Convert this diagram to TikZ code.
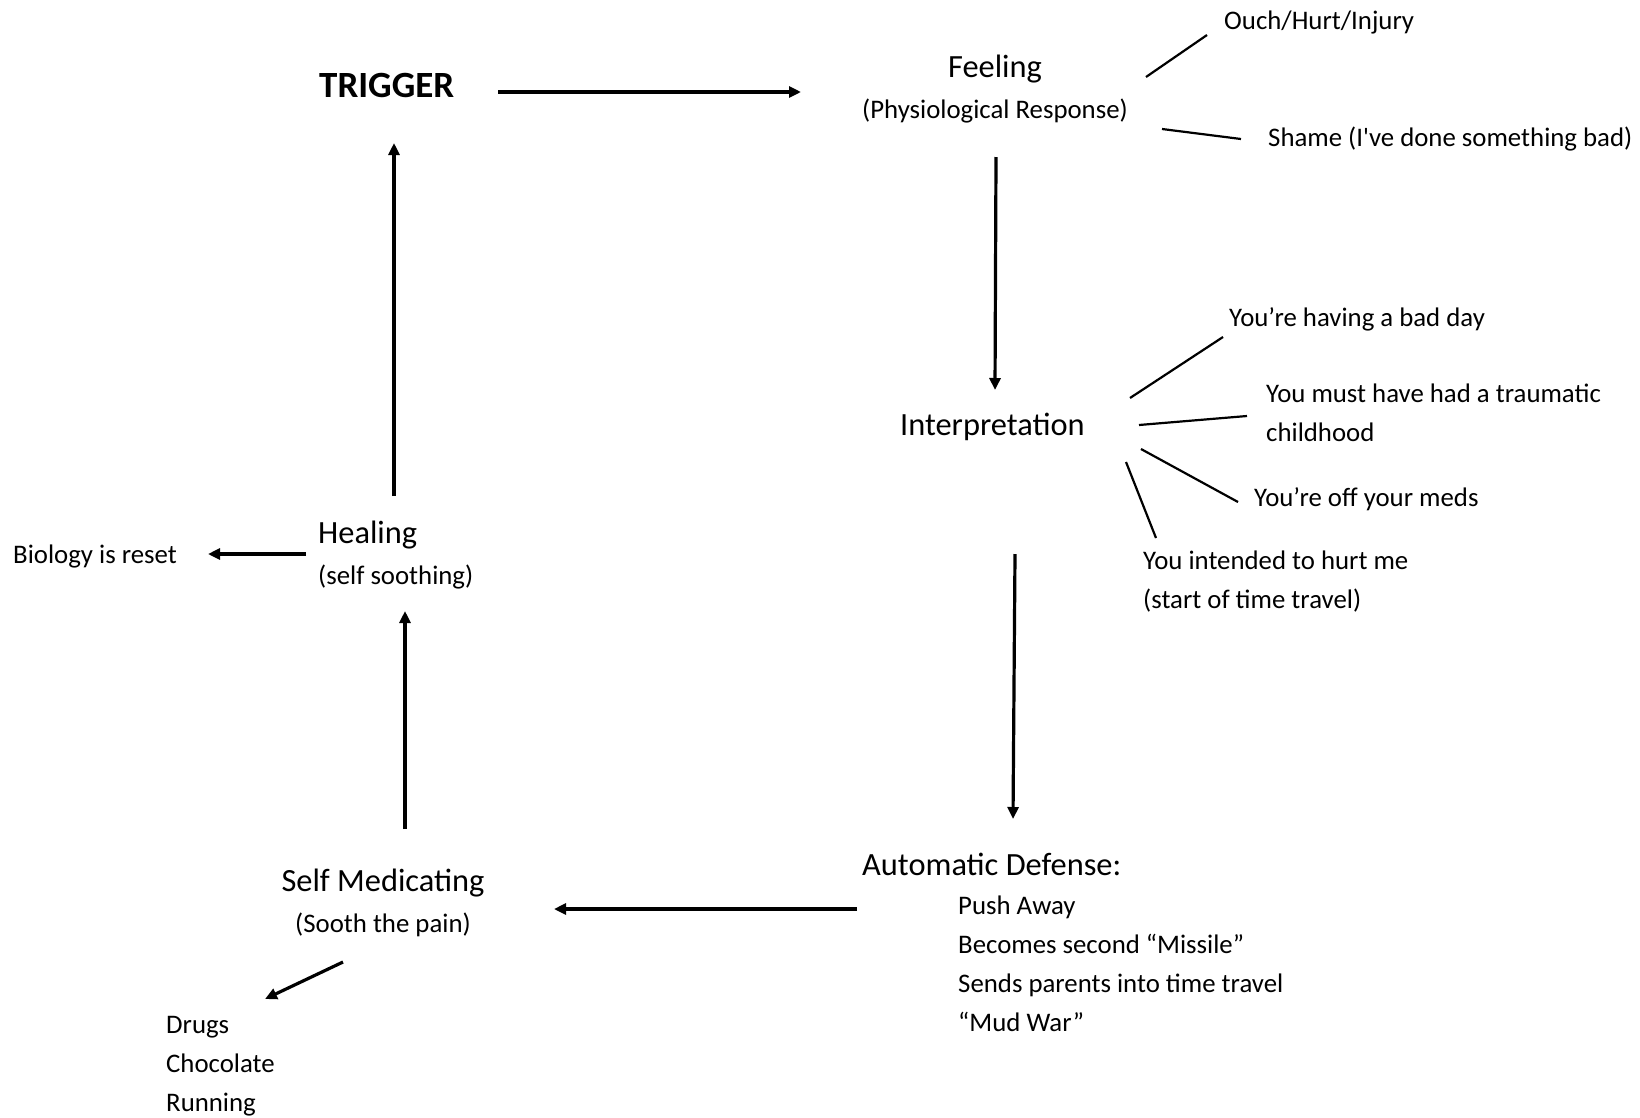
\documentclass[tikz,border=0pt]{standalone}
\usepackage{fontspec}
\setmainfont{Carlito}[Ligatures=TeXOff]
\usetikzlibrary{arrows.meta}
\begin{document}
\begin{tikzpicture}[x=1pt,y=-1pt,
  small/.style={font=\fontsize{26.8}{38.8}\selectfont,inner sep=0pt,align=left},
  big/.style={font=\fontsize{32.4}{38}\selectfont,inner sep=0pt},
  flow/.style={line width=3.2pt,-{Triangle[length=12pt,width=11pt]}},
  branch/.style={line width=2.2pt}]
\fill[white] (0,0) rectangle (1640,1117);
\useasboundingbox (0,0) rectangle (1640,1117);

% main labels
\node[inner sep=0pt,anchor=west,font=\fontsize{37}{40}\selectfont\bfseries] (trigger) at (319,85) {TRIGGER};
\node[big] (feeling) at (995,69) {Feeling};
\node[small,anchor=center] (physio) at (995,111) {(Physiological Response)};
\node[big,anchor=west] (interp) at (900,427) {Interpretation};
\node[big,anchor=west] (auto) at (862,864) {Automatic Defense:};
\node[small,anchor=north west] (autolist) at (958,896) {Push Away\\Becomes second “Missile”\\Sends parents into time travel\\“Mud War”};
\node[big] (selfmed) at (383,883) {Self Medicating};
\node[small,anchor=center] (sooth) at (383,925) {(Sooth the pain)};
\node[small,anchor=north west] (drugs) at (166,1016) {Drugs\\Chocolate\\Running};
\node[big,anchor=west] (healing) at (318,535) {Healing};
\node[small,anchor=west] (soothing) at (318,577) {(self soothing)};
\node[small,anchor=west] (biology) at (13,556) {Biology is reset};

% branch labels
\node[small,anchor=west] (ouch) at (1224,22) {Ouch/Hurt/Injury};
\node[small,anchor=west] (shame) at (1268,139) {Shame (I've done something bad)};
\node[small,anchor=west] (badday) at (1229,319) {You’re having a bad day};
\node[small,anchor=north west] (trauma) at (1266,384) {You must have had a traumatic\\childhood};
\node[small,anchor=west] (meds) at (1254,499) {You’re off your meds};
\node[small,anchor=north west] (intend) at (1143,551) {You intended to hurt me\\(start of time travel)};

% connector end points
\coordinate (tA) at (498,92);   \coordinate (fA) at (801,92);
\coordinate (fB) at (996,157);  \coordinate (iB) at (995,390);
\coordinate (iC) at (1015,554); \coordinate (aC) at (1013,819);
\coordinate (aD) at (857,909);  \coordinate (sD) at (554,909);
\coordinate (sE) at (405,829);  \coordinate (hE) at (405,611);
\coordinate (hF) at (394,496);  \coordinate (tF) at (394,143);
\coordinate (hG) at (306,554);  \coordinate (bG) at (208,554);
\coordinate (sH) at (343,962);  \coordinate (dH) at (265,999);

\coordinate (f1) at (1146,77);  \coordinate (o1) at (1207,35);
\coordinate (f2) at (1162,129); \coordinate (o2) at (1241,139);
\coordinate (i1) at (1130,398); \coordinate (b1) at (1223,337);
\coordinate (i2) at (1139,425); \coordinate (b2) at (1247,416);
\coordinate (i3) at (1141,449); \coordinate (b3) at (1238,502);
\coordinate (i4) at (1126,462); \coordinate (b4) at (1156,538);

% flow arrows
\draw[flow] (tA) -- (fA);
\draw[flow] (fB) -- (iB);
\draw[flow] (iC) -- (aC);
\draw[flow] (aD) -- (sD);
\draw[flow] (sE) -- (hE);
\draw[flow] (hF) -- (tF);
\draw[flow] (hG) -- (bG);
\draw[flow] (sH) -- (dH);

% branch lines
\draw[branch] (f1) -- (o1);
\draw[branch] (f2) -- (o2);
\draw[branch] (i1) -- (b1);
\draw[branch] (i2) -- (b2);
\draw[branch] (i3) -- (b3);
\draw[branch] (i4) -- (b4);
\end{tikzpicture}
\end{document}
